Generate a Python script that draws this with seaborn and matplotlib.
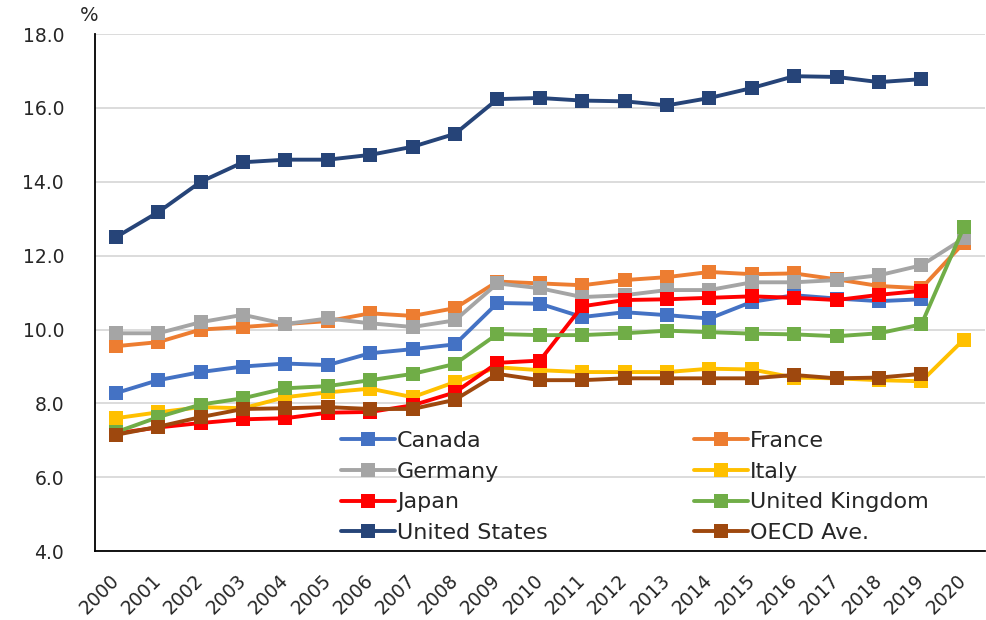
import matplotlib
matplotlib.use("Agg")
import matplotlib.pyplot as plt
import numpy as np
import pandas as pd
import seaborn as sns

# Health expenditure, % of GDP
years = list(range(2000, 2021))
nan = np.nan

canada = [8.28, 8.63, 8.85, 9.00, 9.08, 9.04, 9.36, 9.47, 9.60, 10.72, 10.70,
          10.34, 10.47, 10.39, 10.30, 10.75, 10.93, 10.84, 10.77, 10.82, nan]
france = [9.55, 9.66, 10.00, 10.07, 10.15, 10.23, 10.44, 10.37, 10.58, 11.30, 11.25,
          11.20, 11.34, 11.42, 11.56, 11.50, 11.52, 11.36, 11.18, 11.12, 12.35]
germany = [9.90, 9.90, 10.20, 10.40, 10.15, 10.30, 10.17, 10.07, 10.25, 11.25, 11.12,
           10.88, 10.93, 11.07, 11.07, 11.28, 11.28, 11.34, 11.47, 11.74, 12.47]
italy = [7.60, 7.76, 7.90, 7.87, 8.17, 8.30, 8.40, 8.17, 8.58, 8.98, 8.90,
         8.85, 8.85, 8.85, 8.94, 8.92, 8.70, 8.68, 8.63, 8.60, 9.73]
japan = [7.19, 7.35, 7.47, 7.57, 7.60, 7.75, 7.77, 7.95, 8.30, 9.10, 9.16,
         10.63, 10.80, 10.82, 10.86, 10.90, 10.86, 10.80, 10.94, 11.05, nan]
uk = [7.22, 7.63, 7.97, 8.14, 8.41, 8.47, 8.63, 8.80, 9.07, 9.88, 9.85,
      9.85, 9.90, 9.97, 9.93, 9.89, 9.87, 9.82, 9.90, 10.14, 12.77]
us = [12.50, 13.18, 14.00, 14.53, 14.60, 14.60, 14.73, 14.95, 15.30, 16.24, 16.27,
      16.20, 16.18, 16.07, 16.27, 16.54, 16.86, 16.84, 16.70, 16.78, nan]
oecd = [7.15, 7.37, 7.63, 7.85, 7.87, 7.90, 7.85, 7.85, 8.10, 8.80, 8.63,
        8.63, 8.68, 8.68, 8.68, 8.68, 8.77, 8.68, 8.70, 8.80, nan]

countries = ["Canada", "France", "Germany", "Italy", "Japan",
             "United Kingdom", "United States", "OECD Ave."]
series = [canada, france, germany, italy, japan, uk, us, oecd]
colors = ["#4472C4", "#ED7D31", "#A5A5A5", "#FFC000", "#FF0000",
          "#70AD47", "#264478", "#9E480E"]

rows = []
for name, vals in zip(countries, series):
    for i, v in enumerate(vals):
        rows.append({"pos": i, "country": name, "value": v})
df = pd.DataFrame(rows).dropna()

sns.set_style("white")
plt.rcParams["font.family"] = ["DejaVu Sans"]

fig = plt.figure(figsize=(9.86, 6.2), dpi=100)
ax = fig.add_axes([0.096, 0.111, 0.903, 0.834])

sns.lineplot(data=df, x="pos", y="value", hue="country", hue_order=countries,
             palette=colors, style="country", markers=["s"] * 8, dashes=False,
             linewidth=2.8, markersize=10.5, markeredgewidth=0, ax=ax)

ax.set_xlim(-0.5, len(years) - 0.5)
ax.set_ylim(4, 18)
yt = np.arange(4, 18.1, 2)
ax.set_yticks(yt)
ax.set_yticklabels([f"{t:.1f}" for t in yt], fontsize=13.5)
ax.yaxis.grid(True, color="#D9D9D9", linewidth=1.3)
ax.set_axisbelow(True)

# category axis: tick marks between categories, labels at centres
ax.set_xticks(np.arange(-0.5, len(years), 1))
ax.set_xticklabels([])
ax.tick_params(axis="x", which="major", direction="out", length=6, width=1, color="black")
ax.set_xticks(np.arange(len(years)), minor=True)
ax.set_xticklabels([str(y) for y in years], minor=True, rotation=45, fontsize=13.5,
                   ha="right", va="center", rotation_mode="anchor")
ax.tick_params(axis="x", which="minor", length=0, pad=19)
ax.tick_params(axis="y", length=0, pad=22)
ax.set_xlabel("")
ax.set_ylabel("")

for s in ["top", "right"]:
    ax.spines[s].set_visible(False)
for s in ["left", "bottom"]:
    ax.spines[s].set_color("black")
    ax.spines[s].set_linewidth(1.3)

fig.text(0.081, 0.975, "%", fontsize=14, ha="left", va="center")

handles, labels = ax.get_legend_handles_labels()
lookup = dict(zip(labels, handles))
order = ["Canada", "Germany", "Japan", "United States",
         "France", "Italy", "United Kingdom", "OECD Ave."]
ax.legend([lookup[k] for k in order], order, ncol=2, frameon=False,
          fontsize=16, loc="lower left", bbox_to_anchor=(0.262, -0.01),
          handlelength=2.4, handletextpad=0.1, columnspacing=6.6,
          labelspacing=0.48, borderaxespad=0.2)

fig.savefig("out.png", dpi=100)
